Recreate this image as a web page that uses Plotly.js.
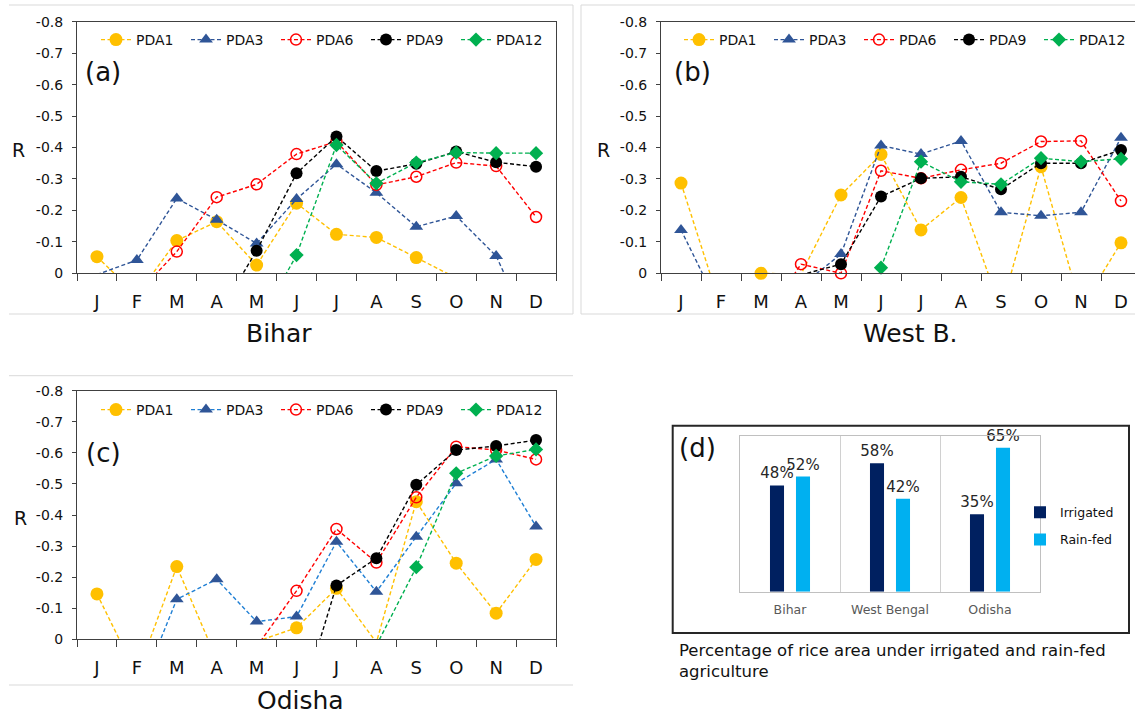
<!DOCTYPE html>
<html><head><meta charset="utf-8">
<script src="https://cdn.plot.ly/plotly-3.0.1.min.js"></script>
<style>html,body{margin:0;padding:0;background:#fff}#chart{width:1135px;height:714px}</style>
</head><body><div id="chart"></div>
<script>
// ---------- DATA ----------
const months = ['J','F','M','A','M','J','J','A','S','O','N','D'];
const seriesNames = ['PDA1','PDA3','PDA6','PDA9','PDA12'];
const yTickVals = [0,-0.1,-0.2,-0.3,-0.4,-0.5,-0.6,-0.7,-0.8];
const yTickText = ['0','-0.1','-0.2','-0.3','-0.4','-0.5','-0.6','-0.7','-0.8'];

// Bihar (a)
const biharPDA1  = [-0.053, 0.07, -0.104, -0.164, -0.026, -0.223, -0.124, -0.114, -0.050, 0.015, null, null];
const biharPDA3  = [0.004, -0.042, -0.238, -0.170, -0.095, -0.236, -0.347, -0.256, -0.148, -0.182, -0.055, 0.22];
const biharPDA6  = [null, 0.067, -0.069, -0.242, -0.283, -0.379, -0.419, -0.281, -0.307, -0.352, -0.341, -0.179];
const biharPDA9  = [null, null, null, 0.14, -0.072, -0.318, -0.435, -0.325, -0.348, -0.387, -0.353, -0.339];
const biharPDA12 = [null, null, null, null, 0.17, -0.058, -0.408, -0.286, -0.352, -0.384, -0.382, -0.382];

// West Bengal (b)
const wbPDA1  = [-0.287, 0.11, 0.0, 0.003, -0.249, -0.378, -0.138, -0.241, 0.115, -0.339, 0.11, -0.097];
const wbPDA3  = [-0.138, 0.12, null, 0.04, -0.061, -0.406, -0.379, -0.421, -0.194, -0.183, -0.194, -0.431];
const wbPDA6  = [null, null, 0.16, -0.029, 0.0, -0.326, -0.302, -0.329, -0.350, -0.419, -0.421, -0.230];
const wbPDA9  = [null, null, null, 0.005, -0.029, -0.244, -0.302, -0.307, -0.267, -0.350, -0.350, -0.392];
const wbPDA12 = [null, null, null, null, null, -0.018, -0.355, -0.291, -0.283, -0.366, -0.355, -0.364];

// Odisha (c)
const odPDA1  = [-0.146, 0.115, -0.234, 0.065, 0.007, -0.037, -0.164, 0.01, -0.443, -0.245, -0.084, -0.257];
const odPDA3  = [null, 0.19, -0.129, -0.193, -0.057, -0.073, -0.314, -0.153, -0.330, -0.502, -0.579, -0.363];
const odPDA6  = [null, null, null, null, 0.024, -0.156, -0.355, -0.247, -0.457, -0.620, -0.609, -0.579];
const odPDA9  = [null, null, null, null, null, 0.25, -0.173, -0.261, -0.497, -0.609, -0.622, -0.641];
const odPDA12 = [null, null, null, null, null, null, null, 0.02, -0.232, -0.534, -0.590, -0.611];

// (d) rice area shares
const states = ['Bihar','West Bengal','Odisha'];
const irrigated = [48, 58, 35];
const rainfed = [52, 42, 65];

// ---------- STYLE ----------
const W = 1135, H = 714;
const px = v => v / W;
const py = v => 1 - v / H;
const FONT = 'DejaVu Sans, Verdana, sans-serif';

const styles = {
  PDA1:  {color:'#FFC000', symbol:'circle',      size:13},
  PDA3:  {color:'#2F5597', symbol:'triangle-up', size:12},
  PDA6:  {color:'#FF0000', symbol:'circle-open', size:11},
  PDA9:  {color:'#000000', symbol:'circle',      size:12},
  PDA12: {color:'#00B050', symbol:'diamond',     size:11}
};

const xIdx = months.map((_, i) => i);
const traces = [];

function addPanel(data, xa, ya, legendId, pda3Line) {
  seriesNames.forEach((name, k) => {
    const s = styles[name];
    const vals = data[k];
    const lineStyle = {color:(name === 'PDA3' && pda3Line) ? pda3Line : s.color, width:1.4, dash:'4px,2.5px'};
    // plotted series (points outside the axis range are not drawn)
    traces.push({
      type:'scatter', mode:'lines+markers', name:name, showlegend:false,
      x:xIdx, y:vals, xaxis:xa, yaxis:ya,
      cliponaxis:false, line:lineStyle,
      marker:{
        color:s.color, symbol:s.symbol, opacity:1,
        size: vals.map(v => (v !== null && v > 0) ? 0 : s.size),
        line:{color:s.color, width: s.symbol === 'circle-open' ? 1.5 : 0}
      },
      hoverinfo:'skip'
    });
    // legend key for the series
    traces.push({
      type:'scatter', mode:'lines+markers', name:name, showlegend:true, legend:legendId,
      x:[null], y:[null], xaxis:xa, yaxis:ya, line:lineStyle,
      marker:{color:s.color, symbol:s.symbol, size:s.size, opacity:1,
              line:{color:s.color, width: s.symbol === 'circle-open' ? 1.5 : 0}},
      hoverinfo:'skip'
    });
  });
}
addPanel([biharPDA1, biharPDA3, biharPDA6, biharPDA9, biharPDA12], 'x', 'y', 'legend');
addPanel([wbPDA1, wbPDA3, wbPDA6, wbPDA9, wbPDA12], 'x2', 'y2', 'legend2');
addPanel([odPDA1, odPDA3, odPDA6, odPDA9, odPDA12], 'x3', 'y3', 'legend3', '#1F7FD4');

// bars
traces.push({
  type:'bar', name:'Irrigated', x:states, y:irrigated, xaxis:'x4', yaxis:'y4',
  legend:'legend4', legendgroup:'irr',
  marker:{color:'#002060'}, texttemplate:'%{y}%', textposition:'outside',
  textfont:{size:15, color:'#262626', family:FONT}, cliponaxis:false, constraintext:'none',
  hoverinfo:'skip'
});
traces.push({
  type:'bar', name:'Rain-fed', x:states, y:rainfed, xaxis:'x4', yaxis:'y4',
  legend:'legend4', legendgroup:'rain',
  marker:{color:'#00B0F0'}, texttemplate:'%{y}%', textposition:'outside',
  textfont:{size:15, color:'#262626', family:FONT}, cliponaxis:false, constraintext:'none',
  hoverinfo:'skip'
});

const AXC = '#404040';
function xAxis(dom, anchor, rangeEnd) {
  return {
    domain:[px(dom[0]), px(dom[1])], anchor:anchor, range:[-0.5, rangeEnd],
    tickmode:'array', tickvals:xIdx, ticktext:months, ticks:'',
    ticklabelstandoff:12, tickangle:0,
    tickfont:{size:18, color:'#111', family:FONT},
    minor:{tickmode:'linear', tick0:-0.5, dtick:1, ticks:'outside', ticklen:7, tickcolor:AXC, tickwidth:1},
    showline:true, linecolor:AXC, linewidth:1, mirror:true,
    showgrid:false, zeroline:false, fixedrange:true
  };
}
function yAxis(dom, anchor, mirror) {
  return {
    domain:[py(dom[0]), py(dom[1])], anchor:anchor, range:[0, -0.8],
    tickmode:'array', tickvals:yTickVals, ticktext:yTickText,
    ticks:'outside', ticklen:4, tickcolor:AXC,
    ticklabelstandoff:6,
    tickfont:{size:14, color:'#111', family:FONT},
    showline:true, linecolor:AXC, linewidth:1, mirror:mirror,
    showgrid:false, zeroline:false, fixedrange:true
  };
}

function pdaLegend(x, y) {
  return {
    x:px(x), y:py(y), xanchor:'left', yanchor:'middle', orientation:'h',
    entrywidth:45, entrywidthmode:'pixels',
    font:{size:14, color:'#111', family:FONT}, bgcolor:'rgba(0,0,0,0)',
    borderwidth:0, traceorder:'normal'
  };
}

const frameColor = '#d9d9d9';
function seg(x0, y0, x1, y1, color, width) {
  return {type:'line', xref:'paper', yref:'paper', x0:px(x0), y0:py(y0), x1:px(x1), y1:py(y1),
          line:{color:color, width:width}, layer:'below'};
}
function label(text, x, y, size) {
  return {text:text, x:px(x), y:py(y), xref:'paper', yref:'paper', xanchor:'center', yanchor:'middle',
          showarrow:false, font:{size:size, family:FONT, color:'#111'}};
}

const layout = {
  width:W, height:H, margin:{l:0, r:0, t:0, b:0, autoexpand:false},
  paper_bgcolor:'#ffffff', plot_bgcolor:'rgba(0,0,0,0)',
  font:{family:FONT, color:'#111'},
  showlegend:true,
  barmode:'group', bargap:0.48, bargroupgap:0.46,
  xaxis: xAxis([77, 556], 'y', 11.5),
  yaxis: yAxis([273.3, 21.7], 'x', true),
  xaxis2: xAxis([661, 1135], 'y2', 11.35),
  yaxis2: yAxis([273.3, 21.7], 'x2', false),
  xaxis3: xAxis([77, 556], 'y3', 11.5),
  yaxis3: yAxis([639.3, 390.7], 'x3', true),
  xaxis4: {
    domain:[px(740), px(1040)], anchor:'y4', type:'category', tickson:'boundaries',
    showgrid:true, gridcolor:'#d0d0d0', gridwidth:1,
    showline:true, linecolor:'#c0c0c0', linewidth:1.2, mirror:true, ticks:'',
    ticklabelstandoff:6, tickangle:0,
    tickfont:{size:12.5, color:'#595959', family:FONT}, fixedrange:true
  },
  yaxis4: {
    domain:[py(591.7), py(436)], anchor:'x4', range:[0, 70.3],
    showticklabels:false, showgrid:false, zeroline:false,
    showline:true, linecolor:'#c0c0c0', linewidth:1.2, mirror:true, ticks:'', fixedrange:true
  },
  legend: pdaLegend(96, 40),
  legend2: pdaLegend(679, 40),
  legend3: pdaLegend(96, 410),
  legend4: {
    x:px(1020), y:py(526), xanchor:'left', yanchor:'middle', orientation:'v',
    font:{size:12.5, color:'#111', family:FONT}, bgcolor:'rgba(0,0,0,0)',
    tracegroupgap:8, traceorder:'grouped'
  },
  shapes: [
    seg(9, 5, 573, 5, frameColor, 1), seg(573, 5, 573, 314, frameColor, 1), seg(9, 314, 573, 314, frameColor, 1),
    seg(581, 5, 1135, 5, frameColor, 1), seg(581, 5, 581, 314, frameColor, 1), seg(581, 314, 1135, 314, frameColor, 1),
    seg(9, 375.7, 573, 375.7, frameColor, 1), seg(9, 685, 573, 685, frameColor, 1),
    {type:'rect', xref:'paper', yref:'paper', x0:px(672.7), y0:py(633), x1:px(1129), y1:py(425.7),
     line:{color:'#262626', width:2}, fillcolor:'rgba(0,0,0,0)', layer:'below'}
  ],
  annotations: [
    label('(a)', 103, 72, 26),
    label('(b)', 692, 72, 26),
    label('(c)', 103, 453, 26),
    label('(d)', 697, 448, 26),
    label('R', 18, 150, 19),
    label('R', 603, 150, 19),
    label('R', 20, 518, 19),
    label('Bihar', 279, 333, 25),
    label('West B.', 910, 333, 25),
    label('Odisha', 300, 700, 25),
    {text:'Percentage of rice area under irrigated and rain-fed<br>agriculture', x:px(677), y:py(639),
     xref:'paper', yref:'paper', xanchor:'left', yanchor:'top', align:'left', showarrow:false,
     font:{size:16.5, family:FONT, color:'#111'}}
  ]
};

Plotly.newPlot('chart', traces, layout, {staticPlot:true, displayModeBar:false});
</script></body></html>
